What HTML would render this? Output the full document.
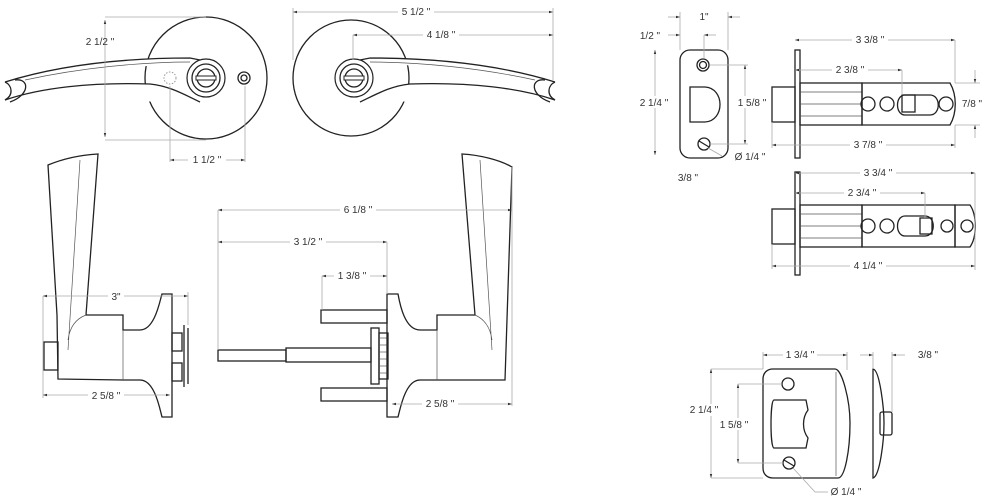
<!DOCTYPE html>
<html><head><meta charset="utf-8"><style>
html,body{margin:0;padding:0;background:#fff}
svg{display:block}
text{font-family:"Liberation Sans",sans-serif;font-size:10px;fill:#333;text-anchor:middle}
.d{stroke:#aaa;stroke-width:0.8;fill:none}
.o{stroke:#222;stroke-width:1.3;fill:none}
.t{stroke:#555;stroke-width:0.7;fill:none}
</style></head><body>
<svg width="986" height="501" viewBox="0 0 986 501" xmlns="http://www.w3.org/2000/svg">
<defs><marker id="a" viewBox="0 0 10 10" refX="10" refY="5" markerWidth="6" markerHeight="5" orient="auto-start-reverse"><path d="M0,2 L10,5 L0,8z" fill="#333"/></marker></defs>

<!-- Top left lever front -->
<circle class="o" cx="206" cy="78" r="61"/>
<path d="M5,82 C50,68 110,58 190,58 L200,60 M5,100 C40,88 90,82 150,84 C170,86 185,95 200,102" fill="#fff" stroke="#222" stroke-width="1.3"/>
<path class="o" d="M5,82 C12,85 14,95 5,100 M15,80 C30,78 30,95 10,102"/>
<path class="t" d="M25,80 C80,68 140,62 190,62"/>
<circle cx="206" cy="78" r="19" fill="#fff" stroke="#222" stroke-width="1.2"/>
<circle class="o" cx="206" cy="78" r="14"/>
<circle class="o" cx="206" cy="78" r="9"/>
<rect x="196" y="76" width="20" height="4" fill="#fff" stroke="#222" stroke-width="1"/>
<circle class="o" cx="244" cy="78" r="6"/><circle class="o" cx="244" cy="78" r="3"/>
<circle cx="170" cy="78" r="6" fill="none" stroke="#999" stroke-dasharray="1.5 1.5"/>
<!-- dims -->
<line class="d" x1="105" y1="17" x2="206" y2="17"/><line class="d" x1="105" y1="140" x2="206" y2="140"/>
<line class="d" x1="105" y1="20" x2="105" y2="137" marker-start="url(#a)" marker-end="url(#a)"/>
<text x="100" y="45">2 1/2 "</text>
<line class="d" x1="170" y1="86" x2="170" y2="162"/><line class="d" x1="245" y1="86" x2="245" y2="162"/>
<line class="d" x1="170" y1="160" x2="245" y2="160" marker-start="url(#a)" marker-end="url(#a)"/>
<rect x="188" y="153" width="38" height="12" fill="#fff"/><text x="207" y="163">1 1/2 "</text>

<!-- Top right lever front -->
<circle class="o" cx="351" cy="78" r="58"/>
<path d="M555,82 C510,68 450,58 370,58 L360,60 M555,100 C520,88 470,82 410,84 C390,86 375,95 360,102" fill="#fff" stroke="#222" stroke-width="1.3"/>
<path class="o" d="M555,82 C548,85 546,95 555,100 M545,80 C530,78 530,95 550,102"/>
<path class="t" d="M535,80 C480,68 420,62 370,62"/>
<circle cx="354" cy="78" r="19" fill="#fff" stroke="#222" stroke-width="1.2"/>
<circle class="o" cx="354" cy="78" r="14"/><circle class="o" cx="354" cy="78" r="9"/>
<rect x="344" y="76" width="20" height="4" fill="#fff" stroke="#222" stroke-width="1"/>
<line class="d" x1="293" y1="12" x2="553" y2="12" marker-start="url(#a)" marker-end="url(#a)"/>
<line class="d" x1="553" y1="8" x2="553" y2="80"/><line class="d" x1="293" y1="8" x2="293" y2="60"/>
<rect x="398" y="5" width="36" height="12" fill="#fff"/><text x="416" y="15">5 1/2 "</text>
<line class="d" x1="353" y1="35" x2="553" y2="35" marker-start="url(#a)" marker-end="url(#a)"/>
<line class="d" x1="353" y1="35" x2="353" y2="60"/>
<rect x="423" y="28" width="36" height="12" fill="#fff"/><text x="441" y="38">4 1/8 "</text>

<!-- Middle left side view -->
<path class="o" d="M48,165 C65,158 80,155 98,154 L86,315 L123,315 L123,330 L140,330 C155,330 160,300 162,294 L172,294 L172,417 L162,417 C160,410 155,380 140,380 L123,380 L58,379 L57,315 Z"/>
<path class="t" d="M80,160 L68,350 M123,330 L123,380 M68,340 C70,325 78,318 86,315"/>
<rect class="o" x="44" y="342" width="14" height="28"/>
<rect class="o" x="172" y="333" width="10" height="18"/><rect class="o" x="172" y="363" width="10" height="18"/>
<line class="o" x1="184" y1="325" x2="184" y2="387"/><line class="o" x1="188" y1="328" x2="188" y2="384"/>
<line class="d" x1="43" y1="296" x2="188" y2="296" marker-start="url(#a)" marker-end="url(#a)"/>
<rect x="108" y="290" width="16" height="12" fill="#fff"/><text x="116" y="300">3"</text>
<line class="d" x1="43" y1="296" x2="43" y2="398"/><line class="d" x1="188" y1="292" x2="188" y2="325"/>
<line class="d" x1="43" y1="395" x2="170" y2="395" marker-start="url(#a)" marker-end="url(#a)"/>
<rect x="88" y="389" width="36" height="12" fill="#fff"/><text x="106" y="399">2 5/8 "</text>

<!-- Middle right side view -->
<rect class="o" x="218" y="350" width="68" height="11"/>
<rect class="o" x="286" y="348" width="85" height="14"/>
<rect class="o" x="321" y="310" width="66" height="13"/><rect class="o" x="321" y="388" width="66" height="13"/>
<rect class="o" x="371" y="328" width="8" height="56"/><rect class="o" x="379" y="333" width="9" height="46"/>
<line class="t" x1="379" y1="338" x2="388" y2="338"/><line class="t" x1="379" y1="345" x2="388" y2="345"/><line class="t" x1="379" y1="352" x2="388" y2="352"/><line class="t" x1="379" y1="359" x2="388" y2="359"/><line class="t" x1="379" y1="366" x2="388" y2="366"/><line class="t" x1="379" y1="373" x2="388" y2="373"/>
<path class="o" d="M387,294 L398,294 C400,305 405,330 420,330 L437,330 L437,315 L475,315 L462,154 C480,155 500,160 512,167 L505,380 L437,380 L420,380 C405,380 400,410 398,417 L387,417 Z"/>
<path class="t" d="M480,160 L492,350 M437,330 L437,380 M492,340 C490,325 482,318 475,315"/>
<line class="d" x1="218" y1="210" x2="512" y2="210" marker-start="url(#a)" marker-end="url(#a)"/>
<rect x="340" y="203" width="36" height="12" fill="#fff"/><text x="358" y="213">6 1/8 "</text>
<line class="d" x1="218" y1="210" x2="218" y2="350"/>
<line class="d" x1="218" y1="242" x2="387" y2="242" marker-start="url(#a)" marker-end="url(#a)"/>
<rect x="290" y="235" width="36" height="12" fill="#fff"/><text x="308" y="245">3 1/2 "</text>
<line class="d" x1="387" y1="242" x2="387" y2="294"/>
<line class="d" x1="322" y1="276" x2="387" y2="276" marker-start="url(#a)" marker-end="url(#a)"/>
<rect x="334" y="269" width="36" height="12" fill="#fff"/><text x="352" y="279">1 3/8 "</text>
<line class="d" x1="322" y1="276" x2="322" y2="310"/>
<line class="d" x1="392" y1="404" x2="512" y2="404" marker-start="url(#a)" marker-end="url(#a)"/>
<rect x="422" y="397" width="36" height="12" fill="#fff"/><text x="440" y="407">2 5/8 "</text>
<line class="d" x1="512" y1="167" x2="512" y2="406"/>

<!-- Latch faceplate front -->
<rect class="o" x="680" y="50" width="48" height="108" rx="10"/>
<circle class="o" cx="703" cy="65" r="6"/><circle class="o" cx="703" cy="65" r="3.5"/>
<path class="o" d="M690,87 L705,87 C725,88 725,121 705,122 L690,122 Z"/>
<circle class="o" cx="704" cy="144" r="6"/><line class="o" x1="699" y1="141" x2="709" y2="147"/>
<line class="d" x1="680" y1="12" x2="680" y2="50"/><line class="d" x1="728" y1="12" x2="728" y2="50"/>
<line class="d" x1="668" y1="17" x2="680" y2="17" marker-end="url(#a)"/><line class="d" x1="740" y1="17" x2="728" y2="17" marker-end="url(#a)"/>
<text x="704" y="20">1"</text>
<line class="d" x1="668" y1="35" x2="680" y2="35" marker-end="url(#a)"/><line class="d" x1="716" y1="35" x2="704" y2="35" marker-end="url(#a)"/>
<line class="d" x1="704" y1="35" x2="704" y2="58"/>
<text x="650" y="39">1/2 "</text>
<line class="d" x1="655" y1="50" x2="655" y2="155" marker-start="url(#a)" marker-end="url(#a)"/>
<rect x="636" y="96" width="36" height="12" fill="#fff"/><text x="654" y="106">2 1/4 "</text>
<line class="d" x1="710" y1="65" x2="748" y2="65"/><line class="d" x1="710" y1="144" x2="748" y2="144"/>
<line class="d" x1="745" y1="65" x2="745" y2="144" marker-start="url(#a)" marker-end="url(#a)"/>
<rect x="732" y="96" width="36" height="12" fill="#fff"/><text x="752" y="106">1 5/8 "</text>
<line class="d" x1="708" y1="148" x2="722" y2="156"/>
<text x="750" y="160">Ø 1/4 "</text>
<text x="688" y="181">3/8 "</text>

<!-- Latch side 1 -->
<rect class="o" x="772" y="87" width="23" height="35"/>
<rect class="o" x="795" y="50" width="5" height="108"/>
<rect class="o" x="800" y="83" width="62" height="42"/>
<line class="t" x1="800" y1="92" x2="862" y2="92"/><line class="t" x1="800" y1="104" x2="862" y2="104"/><line class="t" x1="800" y1="116" x2="862" y2="116"/>
<path class="o" d="M862,83 L950,83 C957,95 957,113 950,125 L862,125 Z"/>
<circle class="o" cx="868" cy="104" r="7"/><circle class="o" cx="887" cy="104" r="7"/>
<path class="o" d="M905,95 L930,95 C941,95 941,115 930,115 L905,115 C895,115 895,95 905,95 Z"/>
<rect class="o" x="902" y="95" width="13" height="17"/>
<circle class="o" cx="946" cy="104" r="7"/>
<line class="d" x1="795" y1="40" x2="955" y2="40" marker-start="url(#a)" marker-end="url(#a)"/>
<line class="d" x1="955" y1="40" x2="955" y2="83"/>
<rect x="852" y="33" width="36" height="12" fill="#fff"/><text x="870" y="43">3 3/8 "</text>
<line class="d" x1="795" y1="70" x2="902" y2="70" marker-start="url(#a)" marker-end="url(#a)"/>
<line class="d" x1="902" y1="70" x2="902" y2="95"/>
<rect x="832" y="63" width="36" height="12" fill="#fff"/><text x="850" y="73">2 3/8 "</text>
<line class="d" x1="772" y1="145" x2="955" y2="145" marker-start="url(#a)" marker-end="url(#a)"/>
<line class="d" x1="772" y1="122" x2="772" y2="148"/><line class="d" x1="955" y1="125" x2="955" y2="148"/>
<rect x="850" y="138" width="36" height="12" fill="#fff"/><text x="868" y="148">3 7/8 "</text>
<line class="d" x1="955" y1="83" x2="980" y2="83"/><line class="d" x1="955" y1="125" x2="980" y2="125"/>
<line class="d" x1="975" y1="70" x2="975" y2="83" marker-end="url(#a)"/><line class="d" x1="975" y1="138" x2="975" y2="125" marker-end="url(#a)"/>
<text x="972" y="107">7/8 "</text>

<!-- Latch side 2 -->
<rect class="o" x="772" y="209" width="23" height="35"/>
<rect class="o" x="795" y="172" width="5" height="103"/>
<rect class="o" x="800" y="205" width="62" height="42"/>
<line class="t" x1="800" y1="214" x2="862" y2="214"/><line class="t" x1="800" y1="226" x2="862" y2="226"/><line class="t" x1="800" y1="238" x2="862" y2="238"/>
<rect class="o" x="862" y="205" width="93" height="42"/>
<path class="o" d="M955,205 L970,205 C977,215 977,237 970,247 L955,247 Z"/>
<circle class="o" cx="868" cy="226" r="7"/><circle class="o" cx="887" cy="226" r="7"/>
<path class="o" d="M905,216 L925,216 C936,216 936,236 925,236 L905,236 C895,236 895,216 905,216 Z"/>
<rect class="o" x="920" y="218" width="12" height="16"/>
<circle class="o" cx="947" cy="226" r="6"/><circle class="o" cx="967" cy="226" r="6"/>
<line class="d" x1="795" y1="173" x2="975" y2="173" marker-start="url(#a)" marker-end="url(#a)"/>
<line class="d" x1="975" y1="173" x2="975" y2="270"/>
<rect x="860" y="166" width="36" height="12" fill="#fff"/><text x="878" y="176">3 3/4 "</text>
<line class="d" x1="795" y1="193" x2="925" y2="193" marker-start="url(#a)" marker-end="url(#a)"/>
<line class="d" x1="925" y1="193" x2="925" y2="218"/>
<rect x="844" y="186" width="36" height="12" fill="#fff"/><text x="862" y="196">2 3/4 "</text>
<line class="d" x1="772" y1="266" x2="975" y2="266" marker-start="url(#a)" marker-end="url(#a)"/>
<line class="d" x1="772" y1="244" x2="772" y2="269"/>
<rect x="850" y="259" width="36" height="12" fill="#fff"/><text x="868" y="269">4 1/4 "</text>

<!-- Bottom strike -->
<path class="o" d="M773,369 L835,369 C842,369 850,400 850,423 C850,450 845,478 838,478 L773,478 C767,478 763,474 763,468 L763,379 C763,373 767,369 773,369 Z"/>
<line class="t" x1="836" y1="372" x2="836" y2="476"/>
<circle class="o" cx="788" cy="384" r="6"/>
<path class="o" d="M774,400 L806,400 L808,410 C802,418 802,430 808,438 L806,448 L774,448 C770,448 770,400 774,400 Z"/>
<circle class="o" cx="789" cy="463" r="6"/><line class="o" x1="784" y1="460" x2="794" y2="466"/>
<path class="o" d="M873,369 C880,370 884,410 884,423 C884,440 880,476 873,478 Z"/>
<rect class="o" x="880" y="412" width="12" height="23" rx="2"/>
<line class="d" x1="763" y1="352" x2="763" y2="369"/><line class="d" x1="847" y1="352" x2="847" y2="370"/>
<line class="d" x1="763" y1="355" x2="847" y2="355" marker-start="url(#a)" marker-end="url(#a)"/>
<rect x="783" y="348" width="34" height="12" fill="#fff"/><text x="800" y="358">1 3/4 "</text>
<line class="d" x1="860" y1="355" x2="873" y2="355" marker-end="url(#a)"/><line class="d" x1="905" y1="355" x2="892" y2="355" marker-end="url(#a)"/>
<line class="d" x1="873" y1="352" x2="873" y2="369"/><line class="d" x1="892" y1="352" x2="892" y2="412"/>
<text x="928" y="358">3/8 "</text>
<line class="d" x1="711" y1="369" x2="763" y2="369"/><line class="d" x1="711" y1="478" x2="763" y2="478"/>
<line class="d" x1="711" y1="369" x2="711" y2="478" marker-start="url(#a)" marker-end="url(#a)"/>
<rect x="690" y="404" width="34" height="12" fill="#fff"/><text x="704" y="413">2 1/4 "</text>
<line class="d" x1="738" y1="384" x2="782" y2="384"/><line class="d" x1="738" y1="463" x2="783" y2="463"/>
<line class="d" x1="738" y1="384" x2="738" y2="463" marker-start="url(#a)" marker-end="url(#a)"/>
<rect x="715" y="418" width="36" height="12" fill="#fff"/><text x="734" y="428">1 5/8 "</text>
<line class="d" x1="793" y1="468" x2="815" y2="492"/><line class="d" x1="815" y1="492" x2="828" y2="492"/>
<text x="846" y="495">Ø 1/4 "</text>
</svg>
</body></html>
